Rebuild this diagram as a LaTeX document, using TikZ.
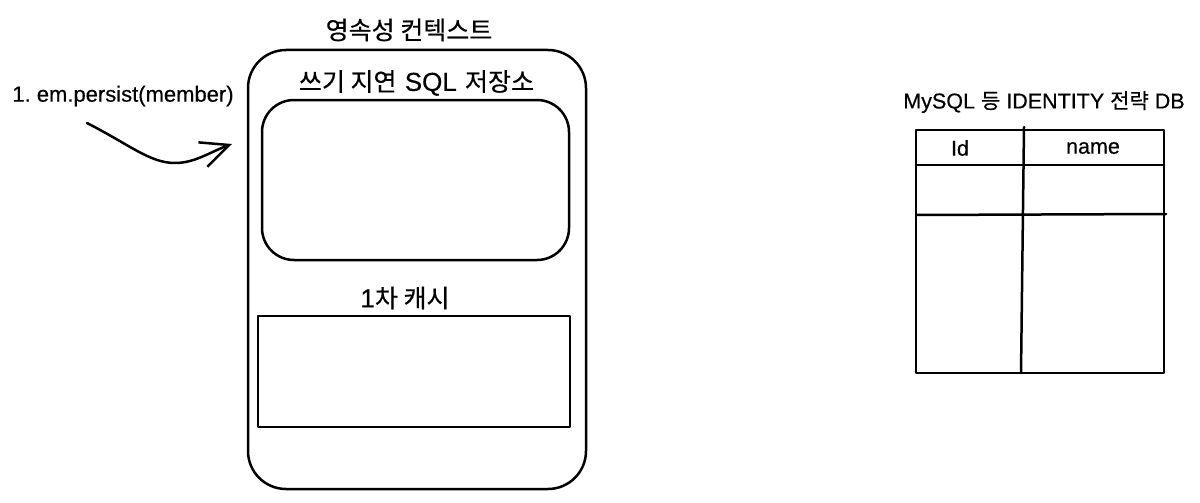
\documentclass[tikz,border=0pt]{standalone}
\usepackage{fontspec}
\setmainfont[RawFeature={embolden=0.4}]{Liberation Sans}
\newfontfamily\kofont[RawFeature={embolden=0.45}]{Noto Sans CJK KR}
\newcommand{\kbig}{\kofont\fontsize{25}{30}\selectfont}
\newcommand{\kmid}{\kofont\fontsize{21}{25}\selectfont}
\usetikzlibrary{arrows.meta}
\frenchspacing
\begin{document}
\begin{tikzpicture}[x=1pt,y=-1pt,line width=2.5pt,line join=round,line cap=round,
  box/.style={draw,inner sep=0pt},
  big/.style={inner sep=0pt,font=\fontsize{26}{30}\selectfont},
  mid/.style={inner sep=0pt,font=\fontsize{21.5}{25}\selectfont}]
\useasboundingbox (0,0) rectangle (1200,503);

% persistence context
\node[box,rounded corners=38pt,minimum width=338pt,minimum height=439pt] (pc) at (417,269.5) {};
\node[big] (pctitle) at (409,30) {{\kbig 영속성 컨텍스트}};
\node[big] (sqltitle) at (416.5,83) {{\kbig 쓰기 지연}\hspace{1pt} SQL\hspace{1pt} {\kbig 저장소}};
\node[box,rounded corners=32pt,minimum width=307pt,minimum height=160pt] (sqlbox) at (415.5,180) {};
\node[big] (cachetitle) at (405,298) {1{\kbig 차 캐시}};
\node[box,minimum width=312pt,minimum height=111pt] (cachebox) at (414,371.5) {};

% persist call
\node[mid,font=\fontsize{22}{26}\selectfont] (call) at (123,96) {1. em.persist(member)};
\coordinate (as) at (87,123);
\coordinate (am) at (175,163);
\coordinate (ae) at (232,144);
\draw[-{Straight Barb[length=28pt,width=26pt]}] (as) .. controls (130,145) and (150,163) .. (am) .. controls (195,163) and (210,152) .. (ae);

% DB table
\node[mid] (dbtitle) at (1044,102) {MySQL {\kmid 등} IDENTITY {\kmid 전략} DB};
\node[box,minimum width=248pt,minimum height=243pt] (tbl) at (1040,251.5) {};
\coordinate (c1) at (1024,127);
\coordinate (c2) at (1021,373);
\coordinate (h1) at (916,165);
\coordinate (h2) at (1164,165);
\coordinate (r1) at (916,215);
\coordinate (r2) at (1166,214);
\draw (c1) -- (c2);
\draw (h1) -- (h2);
\draw (r1) -- (r2);
\node[mid] (idlbl) at (960,148) {Id};
\node[mid] (namelbl) at (1093,148) {name};
\end{tikzpicture}
\end{document}
